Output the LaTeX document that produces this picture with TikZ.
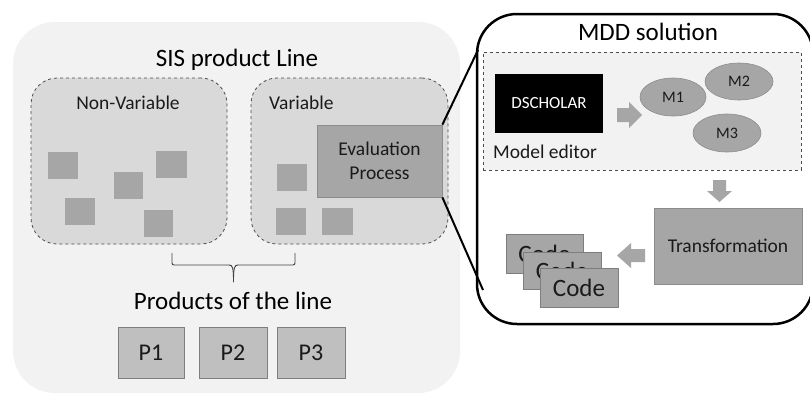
\documentclass[tikz,border=0pt]{standalone}
\usepackage{fontspec}
\setmainfont{Carlito}
\usetikzlibrary{shapes.geometric}
\definecolor{outerbg}{HTML}{F2F2F2}
\definecolor{groupbg}{HTML}{D9D9D9}
\definecolor{itemgray}{HTML}{A6A6A6}
\definecolor{pgray}{HTML}{BFBFBF}
\definecolor{edgegray}{HTML}{8C8C8C}
\definecolor{txt}{HTML}{1A1A1A}
\tikzset{
  outerbox/.style={rectangle, fill=outerbg, draw=none, rounded corners=42pt, inner sep=0pt},
  groupbox/.style={rectangle, fill=groupbg, draw=black!70, dashed, line width=0.8pt, rounded corners=26pt, inner sep=0pt},
  sq/.style={rectangle, fill=itemgray, inner sep=0pt, minimum width=30pt, minimum height=27pt},
  procbox/.style={rectangle, fill=itemgray, draw=edgegray, line width=0.8pt, inner sep=0pt, text=txt, align=center},
  pbox/.style={rectangle, fill=pgray, draw=edgegray!90!black, line width=0.8pt, inner sep=0pt, minimum height=51pt, minimum width=67pt, text=txt, font=\fontsize{24}{28}\selectfont},
  mell/.style={ellipse, fill=itemgray, draw=edgegray, line width=0.6pt, inner sep=0pt, text=txt, font=\fontsize{16}{19}\selectfont},
  codebox/.style={rectangle, fill=itemgray, draw=edgegray!90!black, line width=0.8pt, inner sep=0pt, minimum width=78pt, minimum height=39pt, text=txt, font=\fontsize{25}{30}\selectfont},
  blockarrow/.style={fill=itemgray, draw=none},
  title/.style={text=black, font=\fontsize{25}{30}\selectfont, inner sep=0pt},
  lbl/.style={text=txt, font=\fontsize{19.5}{23}\selectfont, inner sep=0pt},
  zoomline/.style={draw=black, line width=2pt},
  bracestyle/.style={draw=black!75, line width=0.9pt},
}
\begin{document}
\begin{tikzpicture}[x=1pt,y=-1pt]
\useasboundingbox (0,0) rectangle (810,394);
\fill[white] (0,0) rectangle (810,394);
% left part
\node[outerbox, minimum width=447pt, minimum height=371pt] (outer) at (236.5,207.5) {};
\node[title] (sistitle) at (237,60) {SIS product Line};
\node[groupbox, minimum width=196pt, minimum height=166pt] (nonvar) at (129,161) {};
\node[groupbox, minimum width=197pt, minimum height=166pt] (var) at (349.5,161) {};
\node[lbl] (nonvarlbl) at (128,103) {Non-Variable};
\node[lbl, anchor=west] (varlbl) at (269,103) {Variable};
% squares non-variable
\node[sq] (s1) at (63,165) {};
\node[sq, minimum width=31pt] (s2) at (171.5,164) {};
\node[sq, minimum width=29pt] (s3) at (128.5,185.5) {};
\node[sq] (s4) at (80,211) {};
\node[sq, minimum width=29pt] (s5) at (158.5,223) {};
% squares variable
\node[sq] (s6) at (292,177) {};
\node[sq] (s7) at (291,221.5) {};
\node[sq, minimum width=31pt] (s8) at (337.5,221) {};
\node[procbox, minimum width=125pt, minimum height=72pt, font=\fontsize{19.5}{24}\selectfont] (eval) at (379.5,161) {Evaluation\\Process};
% brace
\coordinate (bl) at (172,253);
\coordinate (br) at (295,253);
\coordinate (bm) at (233.5,265);
\coordinate (btip) at (233.5,282);
\draw[bracestyle, rounded corners=2pt] (bl) -- (172,265) -- (229,265);
\draw[bracestyle, rounded corners=2pt] (br) -- (295,265) -- (238,265);
\draw[bracestyle] (229,265) .. controls (232.5,265) and (233.5,267) .. (btip);
\draw[bracestyle] (238,265) .. controls (234.5,265) and (233.5,267) .. (btip);
\node[title] (prodtitle) at (233,301) {Products of the line};
\node[pbox, minimum width=66pt] (p1) at (151,352.5) {P1};
\node[pbox, minimum width=68pt] (p2) at (233,352.5) {P2};
\node[pbox, minimum width=68pt] (p3) at (311,352.5) {P3};
% right part
\node[rectangle, draw=black, line width=2.5pt, fill=white, rounded corners=40pt, minimum width=336pt, minimum height=310pt, inner sep=0pt] (mdd) at (645,169) {};
\node[title] (mddtitle) at (648,32) {MDD solution};
\node[rectangle, fill=outerbg, draw=black!70, dashed, line width=0.8pt, minimum width=318pt, minimum height=118pt, inner sep=0pt] (editorgrp) at (642,111) {};
\node[rectangle, fill=black, inner sep=0pt, minimum width=108pt, minimum height=59pt, text=white, font=\fontsize{17}{20}\selectfont] (dscholar) at (549,103.5) {DSCHOLAR};
\node[lbl, anchor=west] (modeled) at (493,152) {Model editor};
% block arrow right
\coordinate (a1) at (617,115);
\fill[blockarrow] (a1) ++(0,-7) -- ++(12,0) -- ++(0,-6) -- ++(13,13) -- ++(-13,13) -- ++(0,-6) -- ++(-12,0) -- cycle;
\node[mell, minimum width=66pt, minimum height=38pt] (m1) at (673,97) {M1};
\node[mell, minimum width=68pt, minimum height=37pt] (m2) at (739,81.5) {M2};
\node[mell, minimum width=68pt, minimum height=38pt] (m3) at (727,133) {M3};
% block arrow down
\coordinate (a2) at (719.5,180);
\fill[blockarrow] (a2) ++(-6.5,0) -- ++(0,11) -- ++(-6,0) -- ++(12.5,11) -- ++(12.5,-11) -- ++(-6,0) -- ++(0,-11) -- cycle;
\node[procbox, minimum width=148pt, minimum height=76pt, font=\fontsize{19.5}{24}\selectfont] (transf) at (728,246) {Transformation};
% block arrow left
\coordinate (a3) at (645,255.5);
\fill[blockarrow] (a3) ++(0,-6.5) -- ++(-14,0) -- ++(0,-6) -- ++(-14,12.5) -- ++(14,12.5) -- ++(0,-6) -- ++(14,0) -- cycle;
\node[codebox, minimum width=77pt] (c1) at (544.5,253.5) {Code};
\node[codebox, minimum height=37pt] (c2) at (562,270.5) {Code};
\node[codebox] (c3) at (579,287.5) {Code};
% zoom lines
\coordinate (z1) at (478,50);
\coordinate (z2) at (483,290);
\draw[zoomline] (eval.north east) -- (z1);
\draw[zoomline] (eval.south east) -- (z2);
\end{tikzpicture}
\end{document}
